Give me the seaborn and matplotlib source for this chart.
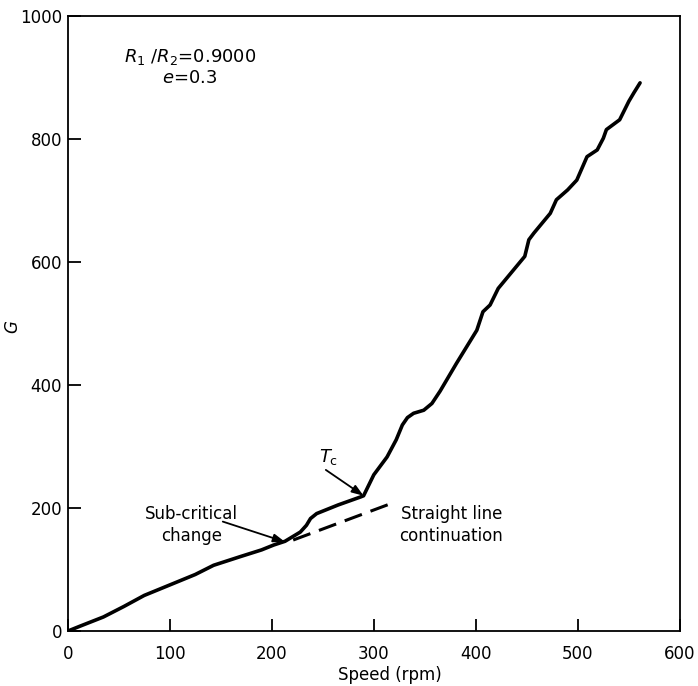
import matplotlib
matplotlib.use('Agg')
import matplotlib.pyplot as plt
import seaborn as sns

# curva G vs velocidad
speed = [0, 12, 35, 55, 75, 100, 125, 143, 169, 190, 202, 213, 220, 228, 234, 238, 244, 265, 287, 290,
         300, 313, 322, 328, 333, 339, 349, 357, 365, 381, 401, 407, 414, 422, 435, 448, 452, 457, 473,
         479, 490, 499, 509, 519, 525, 528, 541, 550, 555, 561]
G = [0, 8, 23, 40, 58, 75, 92, 107, 121, 132, 140, 146, 153, 161, 172, 183, 191, 205, 218, 220,
     254, 283, 311, 335, 347, 354, 359, 370, 390, 435, 489, 519, 530, 557, 583, 609, 636, 647, 679,
     701, 717, 733, 771, 782, 801, 815, 831, 861, 875, 891]
# continuacion recta (discontinua)
recta_x = [221, 318]
recta_G = [148, 208]

xticks = [0, 100, 200, 300, 400, 500, 600]
yticks = [0, 200, 400, 600, 800, 1000]

sns.set_style('ticks')
plt.rcParams['font.family'] = ['DejaVu Sans']
plt.rcParams['mathtext.fontset'] = 'dejavusans'
plt.rcParams['text.color'] = 'black'
plt.rcParams['axes.labelcolor'] = 'black'

fig = plt.figure(figsize=(6.98, 6.86), dpi=100)
ax = fig.add_axes([0.097, 0.080, 0.877, 0.897])

sns.lineplot(x=speed, y=G, color='black', lw=2.6, sort=False, ax=ax)
sns.lineplot(x=recta_x, y=recta_G, color='black', lw=2.2, sort=False, ax=ax,
             linestyle=(0, (6, 3)))

ax.set_xlim(0, 600)
ax.set_ylim(0, 1000)
ax.set_xticks(xticks)
ax.set_yticks(yticks)
ax.tick_params(direction='in', length=9, width=1.3, labelsize=12, colors='black')
ax.tick_params(axis='x', pad=10)
ax.tick_params(axis='y', pad=4)
for s in ax.spines.values():
    s.set_linewidth(1.3)
    s.set_color('black')
    s.set_visible(True)

ax.set_xlabel('Speed (rpm)', fontsize=12, va='center')
ax.xaxis.set_label_coords(0.527, -0.072)
ax.set_ylabel(r'$G$', fontsize=12, va='center')
ax.yaxis.set_label_coords(-0.09, 0.495)

ax.text(120, 933, r'$R_1$ /$R_2$=0.9000', ha='center', va='center', fontsize=13)
ax.text(120, 899, r'$e$=0.3', ha='center', va='center', fontsize=13)

flecha = dict(arrowstyle='-|>,head_length=0.7,head_width=0.25', color='black', lw=1.3,
              shrinkA=0, shrinkB=0)
ax.text(121, 172, 'Sub-critical\nchange', ha='center', va='center', fontsize=12,
        linespacing=1.3)
ax.annotate('', xy=(213, 145), xytext=(152, 178), arrowprops=flecha)
ax.text(256, 283, r'$T_{\mathrm{c}}$', ha='center', va='center', fontsize=13)
ax.annotate('', xy=(290, 220), xytext=(253, 262), arrowprops=flecha)
ax.text(376, 172, 'Straight line\ncontinuation', ha='center', va='center', fontsize=12,
        linespacing=1.3)

plt.savefig('out.png', dpi=100)
plt.close()
